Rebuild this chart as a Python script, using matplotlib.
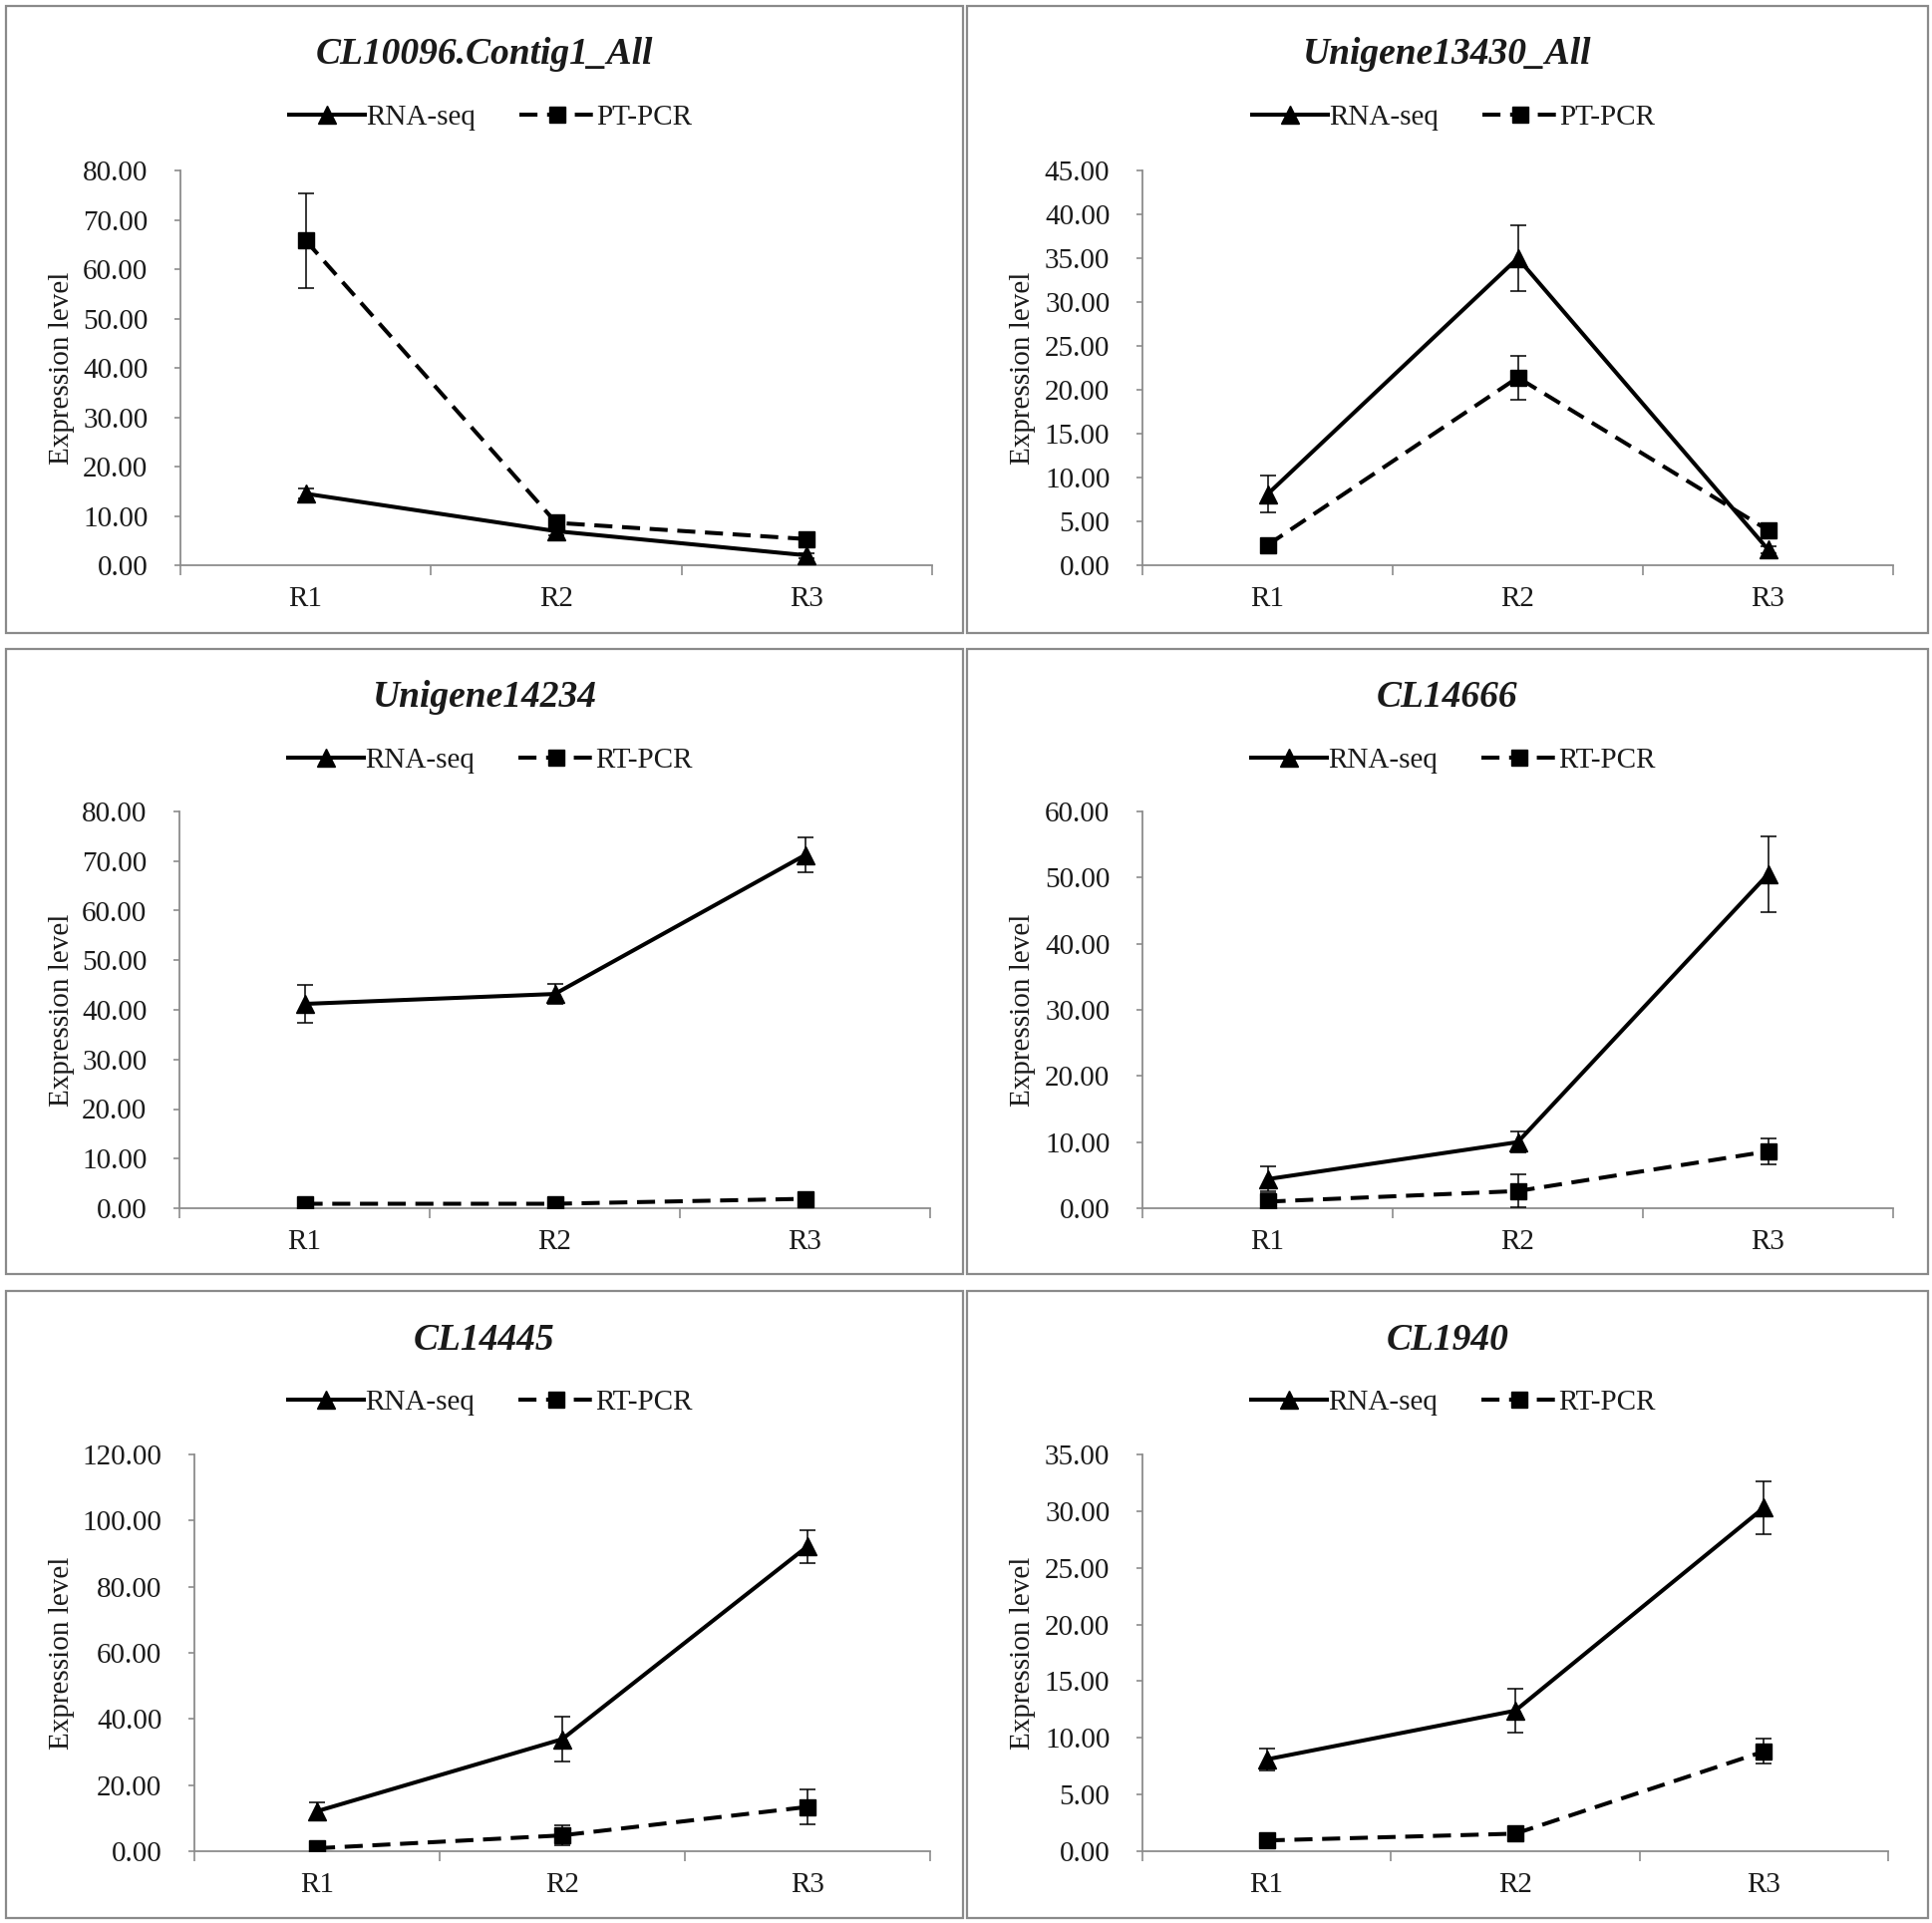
import matplotlib
matplotlib.use("Agg")
import matplotlib.pyplot as plt
from matplotlib.patches import Rectangle
from matplotlib.lines import Line2D
from matplotlib.ticker import FormatStrFormatter, MultipleLocator, FixedLocator

W, H = 1938, 1929

categories = ["R1", "R2", "R3"]

titles = ["CL10096.Contig1_All", "Unigene13430_All", "Unigene14234",
          "CL14666", "CL14445", "CL1940"]
pcr_labels = ["PT-PCR", "PT-PCR", "RT-PCR", "RT-PCR", "RT-PCR", "RT-PCR"]

rna_p1 = [14.5, 6.9, 2.0]
rna_err_p1 = [1.0, 0.8, 0.5]
pcr_p1 = [65.8, 8.6, 5.3]
pcr_err_p1 = [9.6, 1.0, 0.8]

rna_p2 = [8.1, 35.0, 1.8]
rna_err_p2 = [2.1, 3.8, 0.4]
pcr_p2 = [2.3, 21.4, 4.0]
pcr_err_p2 = [0.4, 2.5, 0.6]

rna_p3 = [41.2, 43.2, 71.2]
rna_err_p3 = [3.9, 2.0, 3.5]
pcr_p3 = [0.9, 0.9, 1.9]
pcr_err_p3 = [0.3, 0.3, 1.2]

rna_p4 = [4.4, 10.0, 50.5]
rna_err_p4 = [1.9, 1.6, 5.8]
pcr_p4 = [1.0, 2.6, 8.6]
pcr_err_p4 = [1.2, 2.5, 2.0]

rna_p5 = [12.1, 33.9, 92.2]
rna_err_p5 = [2.8, 6.7, 5.0]
pcr_p5 = [0.9, 4.8, 13.4]
pcr_err_p5 = [0.5, 3.1, 5.3]

rna_p6 = [8.1, 12.4, 30.3]
rna_err_p6 = [1.0, 1.95, 2.3]
pcr_p6 = [0.95, 1.55, 8.8]
pcr_err_p6 = [0.2, 0.2, 1.1]

ymax = [80, 45, 80, 60, 120, 35]
ystep = [10, 5, 10, 10, 20, 5]

rna_all = [rna_p1, rna_p2, rna_p3, rna_p4, rna_p5, rna_p6]
rna_err_all = [rna_err_p1, rna_err_p2, rna_err_p3, rna_err_p4, rna_err_p5, rna_err_p6]
pcr_all = [pcr_p1, pcr_p2, pcr_p3, pcr_p4, pcr_p5, pcr_p6]
pcr_err_all = [pcr_err_p1, pcr_err_p2, pcr_err_p3, pcr_err_p4, pcr_err_p5, pcr_err_p6]

# layout (pixels): panel borders and axes boxes
panels = [(6, 6, 966, 635), (970, 6, 1934, 635),
          (6, 651, 966, 1278), (970, 651, 1934, 1278),
          (6, 1295, 966, 1924), (970, 1295, 1934, 1924)]
axes_box = [(181, 171, 935, 567), (1146, 171, 1899, 567),
            (180, 814, 933, 1212), (1146, 814, 1899, 1212),
            (195, 1459, 933, 1857), (1146, 1459, 1894, 1857)]

plt.rcParams['font.family'] = ['Liberation Serif', 'DejaVu Serif']

fig = plt.figure(figsize=(W / 100, H / 100), dpi=100)
fig.patch.set_facecolor("white")

spine_col = "#8c8c8c"
txt_col = "#1a1a1a"
LW = 2.9
DASH = (0, (4.5, 2.4))

for i in range(6):
    px0, py0, px1, py1 = panels[i]
    fig.patches.append(Rectangle((px0 / W, 1 - py1 / H), (px1 - px0) / W, (py1 - py0) / H,
                                 transform=fig.transFigure, fill=False,
                                 edgecolor="#8a8a8a", linewidth=1.6, zorder=0))
    x0, y0, x1, y1 = axes_box[i]
    ax = fig.add_axes([x0 / W, 1 - y1 / H, (x1 - x0) / W, (y1 - y0) / H])
    xs = [1, 2, 3]
    ax.errorbar(xs, rna_all[i], yerr=rna_err_all[i], color="black", lw=LW,
                marker="^", markersize=12.5, ecolor="black", elinewidth=1.1,
                capsize=5.5, capthick=1.1, zorder=3)
    ax.errorbar(xs, pcr_all[i], yerr=pcr_err_all[i], color="black", lw=LW,
                linestyle=DASH, marker="s", markersize=11.5,
                ecolor="black", elinewidth=1.1, capsize=5.5, capthick=1.1,
                zorder=3)
    ax.set_xlim(0.5, 3.5)
    ax.set_ylim(0, ymax[i])
    ax.yaxis.set_major_locator(MultipleLocator(ystep[i]))
    ax.yaxis.set_major_formatter(FormatStrFormatter("%.2f"))
    ax.set_xticks(xs)
    ax.set_xticklabels(categories)
    ax.xaxis.set_minor_locator(FixedLocator([0.5, 1.5, 2.5, 3.5]))
    ax.tick_params(axis="x", which="major", length=0, pad=15, labelsize=21, colors=txt_col)
    ax.tick_params(axis="x", which="minor", length=7, width=1.2, color=spine_col, direction="out")
    ax.tick_params(axis="y", which="major", length=4.5, width=1.2, color=spine_col,
                   pad=19, labelsize=21, labelcolor=txt_col, direction="out")
    for s in ["top", "right"]:
        ax.spines[s].set_visible(False)
    for s in ["left", "bottom"]:
        ax.spines[s].set_color(spine_col)
        ax.spines[s].set_linewidth(1.3)
    ax.set_facecolor("none")
    ax.set_ylabel("Expression level", fontsize=21, color=txt_col)
    lab_x = (px0 + 69 - x0) / (x1 - x0)
    ax.yaxis.set_label_coords(lab_x, 0.5)
    cx = (px0 + px1) / 2
    fig.text(cx / W, 1 - (py0 + 49) / H, titles[i], ha="center", va="center",
             fontsize=27, fontweight="bold", fontstyle="italic", color=txt_col)
    handles = [Line2D([], [], color="black", lw=LW, marker="^", markersize=12.5),
               Line2D([], [], color="black", lw=LW, linestyle=DASH, marker="s", markersize=11.5)]
    leg = fig.legend(handles, ["RNA-seq", pcr_labels[i]], loc="center",
                     bbox_to_anchor=((cx + 6) / W, 1 - (py0 + 112) / H),
                     ncol=2, frameon=False, fontsize=21, handlelength=2.6,
                     handletextpad=0.05, columnspacing=1.5, borderaxespad=0)
    for t in leg.get_texts():
        t.set_color(txt_col)

fig.savefig("out.png", dpi=100, facecolor="white")
